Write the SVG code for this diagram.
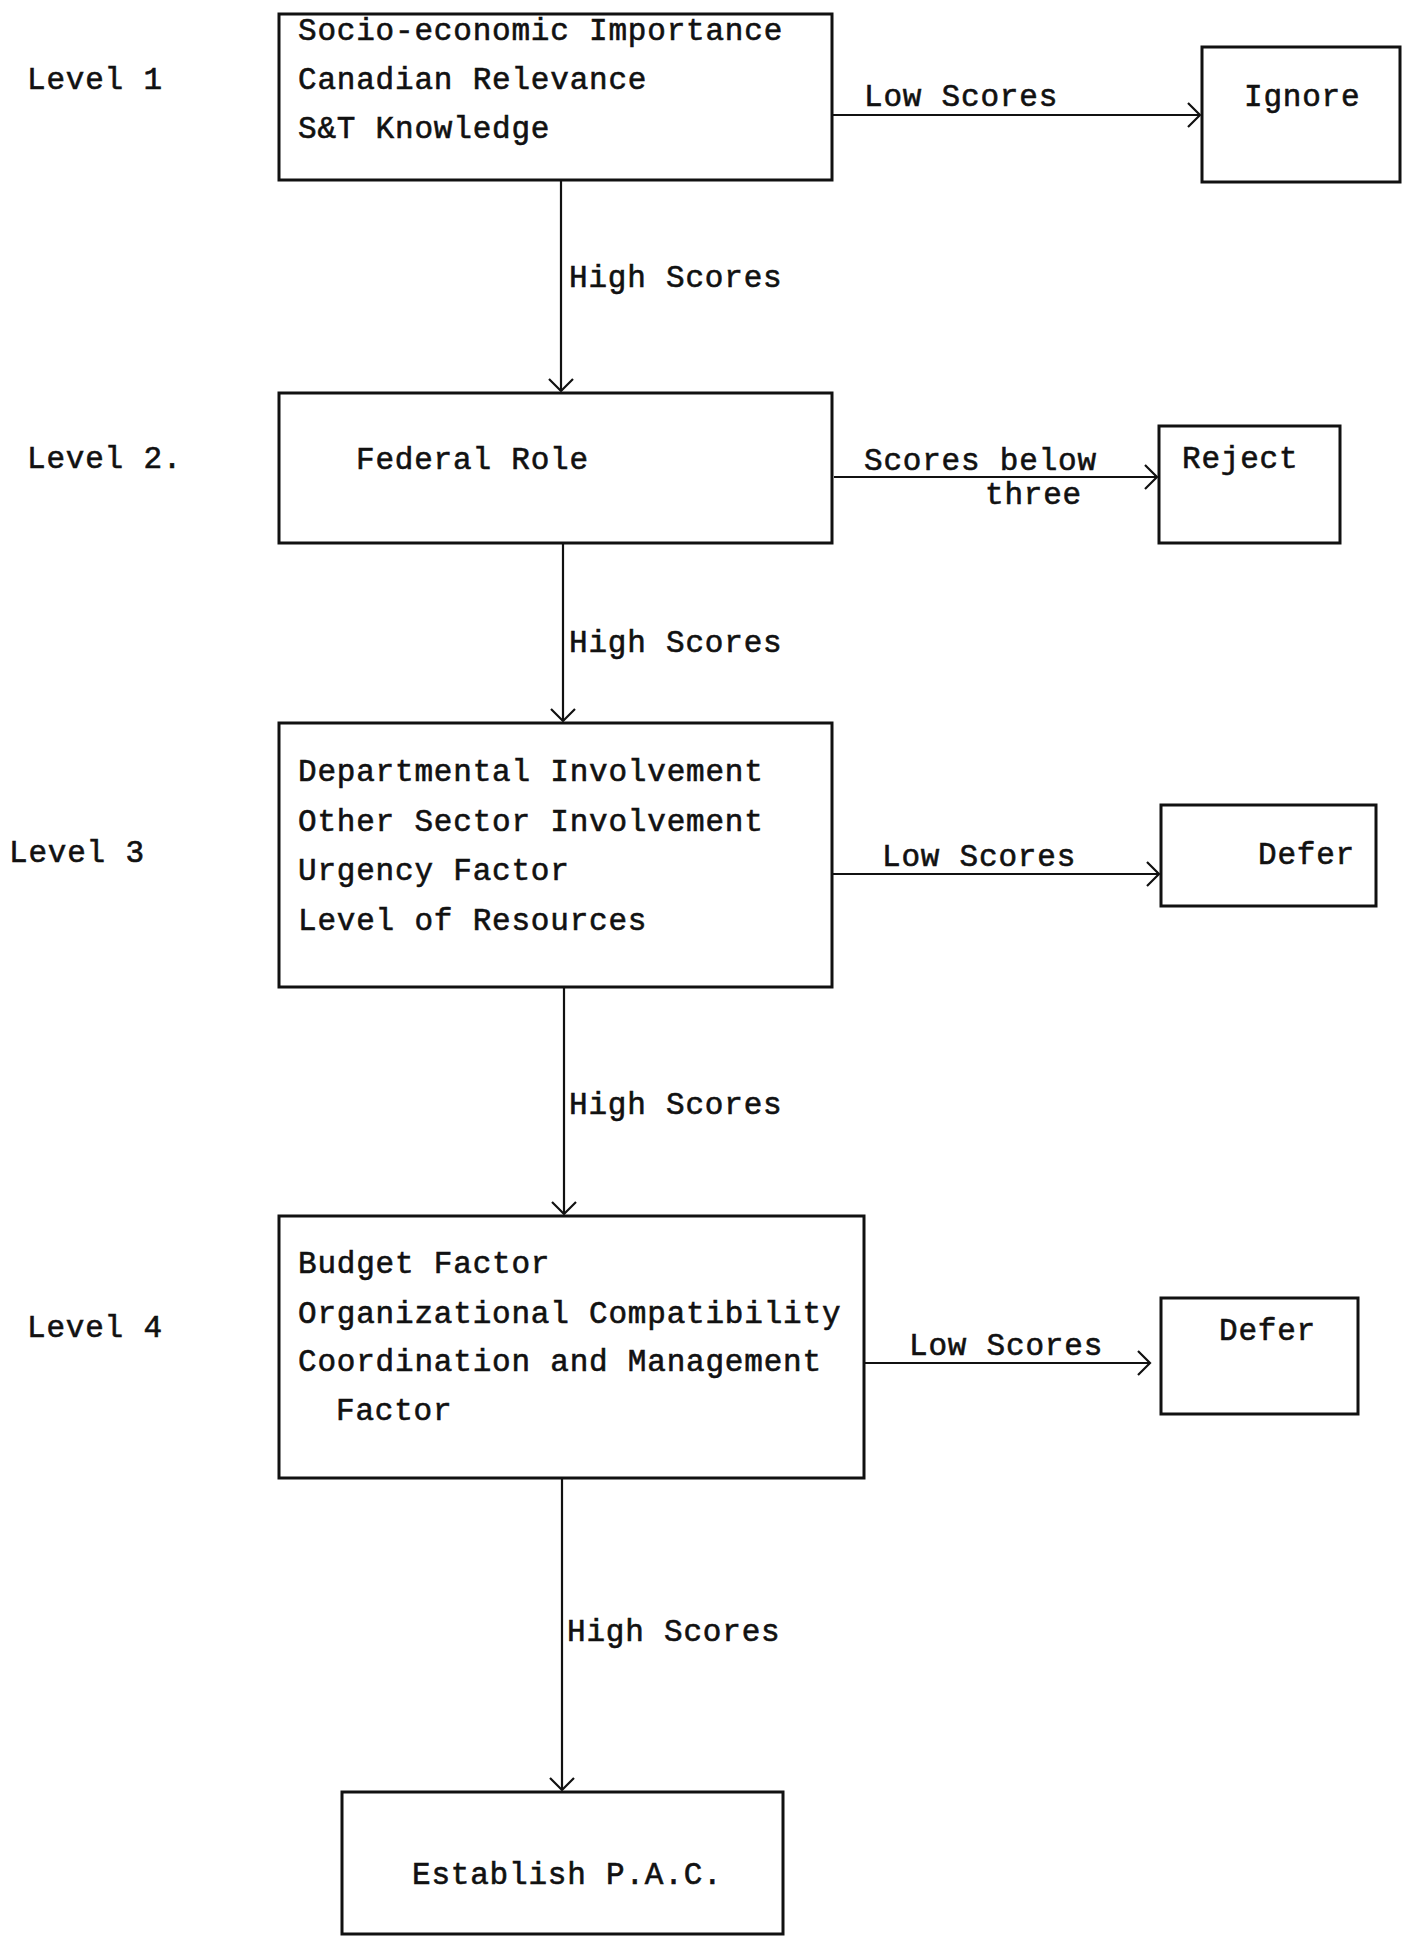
<svg xmlns="http://www.w3.org/2000/svg" width="1404" height="1942" viewBox="0 0 1404 1942">
<style>
  .t { font-family: "Liberation Mono", "DejaVu Sans Mono", monospace; font-size: 31px; letter-spacing: 0.8px; fill: #111; stroke: #111; stroke-width: 0.6px; }
  .box { fill: none; stroke: #111; stroke-width: 3; }
  .ln { fill: none; stroke: #111; stroke-width: 2.2; }
</style>
<defs>
  <marker id="arr" markerUnits="userSpaceOnUse" markerWidth="16" markerHeight="28" refX="13" refY="13" orient="auto" viewBox="0 0 16 28">
    <path d="M1,1 L13,13 L1,25" fill="none" stroke="#111" stroke-width="2.2"/>
  </marker>
</defs>
<rect width="1404" height="1942" fill="#fff"/>

<g id="levels">
  <text class="t" x="27" y="89">Level 1</text>
  <text class="t" x="27" y="468">Level 2.</text>
  <text class="t" x="9" y="862">Level 3</text>
  <text class="t" x="27" y="1337">Level 4</text>
</g>

<g id="level1">
  <rect class="box" x="279" y="14" width="553" height="166"/>
  <text class="t" x="298" y="40">Socio-economic Importance</text>
  <text class="t" x="298" y="89">Canadian Relevance</text>
  <text class="t" x="298" y="138">S&amp;T Knowledge</text>
</g>

<g id="ignore">
  <rect class="box" x="1202" y="47" width="198" height="135"/>
  <text class="t" x="1244" y="106">Ignore</text>
</g>

<g id="level2">
  <rect class="box" x="279" y="393" width="553" height="150"/>
  <text class="t" x="356" y="469">Federal Role</text>
</g>

<g id="reject">
  <rect class="box" x="1159" y="426" width="181" height="117"/>
  <text class="t" x="1182" y="468">Reject</text>
</g>

<g id="level3">
  <rect class="box" x="279" y="723" width="553" height="264"/>
  <text class="t" x="298" y="781">Departmental Involvement</text>
  <text class="t" x="298" y="831">Other Sector Involvement</text>
  <text class="t" x="298" y="880">Urgency Factor</text>
  <text class="t" x="298" y="930">Level of Resources</text>
</g>

<g id="defer1">
  <rect class="box" x="1161" y="805" width="215" height="101"/>
  <text class="t" x="1258" y="864">Defer</text>
</g>

<g id="level4">
  <rect class="box" x="279" y="1216" width="585" height="262"/>
  <text class="t" x="298" y="1273">Budget Factor</text>
  <text class="t" x="298" y="1323">Organizational Compatibility</text>
  <text class="t" x="298" y="1371">Coordination and Management</text>
  <text class="t" x="336" y="1420">Factor</text>
</g>

<g id="defer2">
  <rect class="box" x="1161" y="1298" width="197" height="116"/>
  <text class="t" x="1219" y="1340">Defer</text>
</g>

<g id="establish">
  <rect class="box" x="342" y="1792" width="441" height="142"/>
  <text class="t" x="412" y="1884">Establish P.A.C.</text>
</g>

<g id="connectors">
  <line class="ln" x1="832" y1="115" x2="1200" y2="115" marker-end="url(#arr)"/>
  <text class="t" x="864" y="106">Low Scores</text>

  <line class="ln" x1="561" y1="180" x2="561" y2="391" marker-end="url(#arr)"/>
  <text class="t" x="569" y="287">High Scores</text>

  <line class="ln" x1="834" y1="477" x2="1157" y2="477" marker-end="url(#arr)"/>
  <text class="t" x="864" y="470">Scores below</text>
  <text class="t" x="985" y="504">three</text>

  <line class="ln" x1="563" y1="543" x2="563" y2="721" marker-end="url(#arr)"/>
  <text class="t" x="569" y="652">High Scores</text>

  <line class="ln" x1="832" y1="874" x2="1159" y2="874" marker-end="url(#arr)"/>
  <text class="t" x="882" y="866">Low Scores</text>

  <line class="ln" x1="564" y1="987" x2="564" y2="1214" marker-end="url(#arr)"/>
  <text class="t" x="569" y="1114">High Scores</text>

  <line class="ln" x1="864" y1="1363" x2="1150" y2="1363" marker-end="url(#arr)"/>
  <text class="t" x="909" y="1355">Low Scores</text>

  <line class="ln" x1="562" y1="1478" x2="562" y2="1790" marker-end="url(#arr)"/>
  <text class="t" x="567" y="1641">High Scores</text>
</g>
</svg>
